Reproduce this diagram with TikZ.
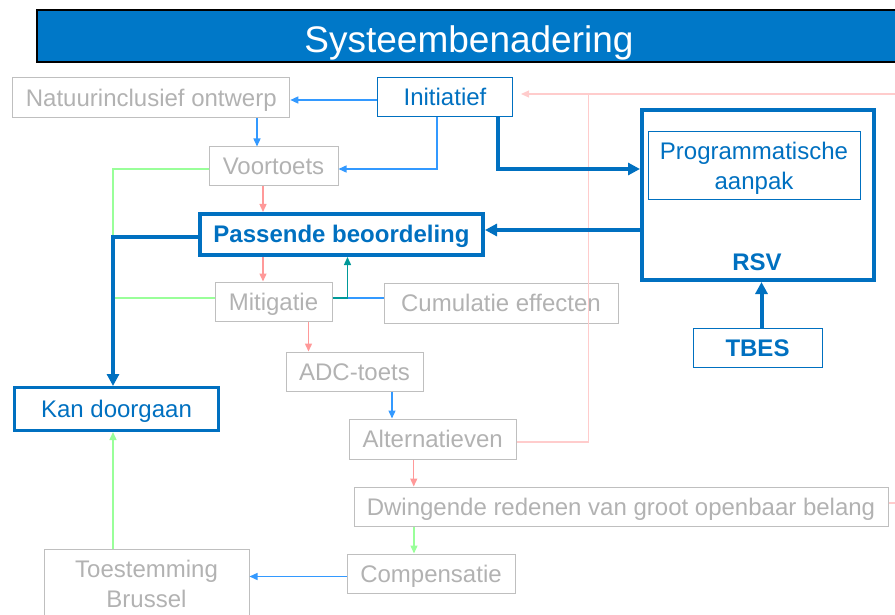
\documentclass[tikz,border=0pt]{standalone}
\usepackage{fontspec}
\setmainfont{Liberation Sans}
\usetikzlibrary{arrows.meta}
\definecolor{titleblue}{RGB}{0,120,200}
\definecolor{rsvblue}{RGB}{0,112,192}
\definecolor{greyline}{RGB}{191,191,191}
\definecolor{greytext}{RGB}{178,178,178}
\definecolor{flowblue}{RGB}{51,153,255}
\definecolor{flowred}{RGB}{255,153,153}
\definecolor{flowpink}{RGB}{255,204,204}
\definecolor{flowgreen}{RGB}{153,255,153}
\definecolor{flowteal}{RGB}{0,153,153}
\begin{document}
\begin{tikzpicture}[x=1pt, y=-1pt,
    every node/.style={inner sep=0pt, font=\fontsize{24}{30}\selectfont},
    oneline/.style={text height=17pt, text depth=0pt},
    greybox/.style={draw=greyline, line width=1pt, text=greytext, oneline},
    bluebox/.style={draw=rsvblue, line width=1pt, text=rsvblue},
    keybox/.style={draw=rsvblue, line width=4pt, text=rsvblue},
    flowline/.style={line width=1.4pt, -{Triangle[length=8pt, width=7pt]}},
    mainline/.style={draw=rsvblue, line width=4pt, -{Triangle[length=12pt, width=12pt]}}]
  \useasboundingbox (0,0) rectangle (895,615);
  \clip (0,0) rectangle (895,615);
  % title bar
  \draw[fill=titleblue, line width=1.5pt] (37,10) rectangle (930,62);
  \node[text=white, font=\fontsize{37}{44}\selectfont, anchor=base] (title) at (469,53) {Systeembenadering};
  % procedure boxes
  \node[greybox, minimum width=277pt, minimum height=40pt] (nat) at (151.3,98) {Natuurinclusief ontwerp};
  \node[bluebox, oneline, minimum width=135pt, minimum height=39pt] (init) at (445,97.5) {Initiatief};
  \node[greybox, minimum width=129pt, minimum height=39pt] (voor) at (273.5,166.5) {Voortoets};
  \node[keybox, oneline, minimum width=283pt, minimum height=41pt, font=\fontsize{24}{30}\selectfont\bfseries] (pb) at (341.5,234.5) {Passende beoordeling};
  \node[greybox, minimum width=117pt, minimum height=39pt] (mit) at (273.5,301.5) {Mitigatie};
  \node[greybox, minimum width=234pt, minimum height=40pt] (cum) at (501,303) {Cumulatie effecten};
  \node[greybox, minimum width=137pt, minimum height=39pt] (adc) at (354.5,371.5) {ADC-toets};
  \node[greybox, minimum width=166.5pt, minimum height=40pt] (alt) at (432.75,439) {Alternatieven};
  \node[greybox, minimum width=534pt, minimum height=39pt] (dwi) at (621,506.5) {Dwingende redenen van groot openbaar belang};
  \node[greybox, minimum width=168pt, minimum height=39pt] (comp) at (431,573.5) {Compensatie};
  \node[draw=greyline, line width=1pt, text=greytext, align=center, minimum width=205pt, minimum height=70pt] (toe) at (146.5,584) {Toestemming\\Brussel};
  \node[keybox, oneline, line width=3pt, minimum width=204pt, minimum height=43pt] (kan) at (116.5,409) {Kan doorgaan};
  % RSV block
  \node[keybox, minimum width=232pt, minimum height=170pt] (rsv) at (758,195) {};
  \node[bluebox, align=center, text depth=0pt, minimum width=212pt, minimum height=68pt] (prog) at (754,166) {Programmatische\\aanpak};
  \node[text=rsvblue, oneline, font=\fontsize{24}{30}\selectfont\bfseries] (rsvlabel) at (757,262) {RSV};
  \node[bluebox, oneline, minimum width=129pt, minimum height=39pt, font=\fontsize{24}{30}\selectfont\bfseries] (tbes) at (757.5,347.5) {TBES};
  % helper points
  \coordinate (bend) at ([xshift=-3.5pt, yshift=-2.5pt]kan.north |- pb.west);
  \coordinate (mid) at ([xshift=15pt, yshift=3.5pt]mit.east);
  \coordinate (ret) at ([xshift=8pt, yshift=3.5pt]init.east);
  \coordinate (jn) at ([xshift=75.5pt, yshift=3.5pt]init.east);
  % thin connectors
  \draw[flowline, flowblue] ([yshift=-2.5pt]init.west) -- ([yshift=-2.5pt]init.west -| nat.east);
  \draw[flowline, flowblue] ([xshift=-16.5pt]voor.north |- nat.south) -- ([xshift=-16.5pt]voor.north);
  \draw[flowline, flowblue] ([xshift=-8pt]init.south) |- ([yshift=-2.5pt]voor.east);
  \draw[flowline, flowred] ([xshift=-10.5pt]voor.south) -- ([xshift=-10.5pt]voor.south |- pb.north);
  \draw[flowline, flowred] ([xshift=-10.5pt]mit.north |- pb.south) -- ([xshift=-10.5pt]mit.north);
  \draw[flowgreen, line width=1.4pt] ([yshift=-2.5pt]voor.west) -| (bend);
  \draw[flowgreen, line width=1.4pt] ([yshift=3.5pt]mit.west) -- ([yshift=3.5pt]mit.west -| bend);
  \draw[flowline, flowteal] ([yshift=3.5pt]mit.east) -- (mid) -- (mid |- pb.south);
  \draw[flowblue, line width=1.4pt] (cum.west |- mid) -- (mid);
  \draw[flowline, flowred] ([xshift=35pt]mit.south) -- ([xshift=35pt]mit.south |- adc.north);
  \draw[flowline, flowblue] ([xshift=37.5pt]adc.south) -- ([xshift=37.5pt]adc.south |- alt.north);
  \draw[flowline, flowred] ([xshift=-19pt]alt.south) -- ([xshift=-19pt]alt.south |- dwi.north);
  \draw[flowline, flowgreen] ([xshift=-207pt]dwi.south) -- ([xshift=-207pt]dwi.south |- comp.north);
  \draw[flowline, flowblue] ([yshift=-3pt]comp.west) -- ([yshift=-3pt]comp.west -| toe.east);
  \draw[flowline, flowgreen] ([xshift=-3.5pt]kan.south |- toe.north) -- ([xshift=-3.5pt]kan.south);
  \draw[flowpink, line width=1.2pt] ([yshift=-3pt]alt.east) -| (jn);
  \draw[flowline, line width=1.2pt, flowpink] ([yshift=3.5pt]dwi.east) -- ++(30,0) |- (ret);
  % main route
  \draw[mainline] ([xshift=53pt]init.south) |- ([yshift=26pt]rsv.west);
  \draw[mainline] ([yshift=4.5pt]pb.east -| rsv.west) -- ([yshift=4.5pt]pb.east);
  \draw[mainline] ([yshift=-2.5pt]pb.west) -| ([xshift=-3.5pt]kan.north);
  \draw[mainline] ([xshift=4pt]tbes.north) -- ([xshift=4pt]tbes.north |- rsv.south);
\end{tikzpicture}
\end{document}
